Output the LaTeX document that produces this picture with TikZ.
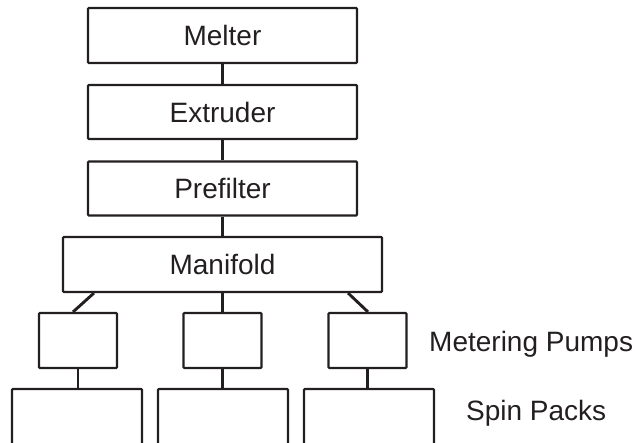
\documentclass[tikz,border=0pt]{standalone}
\usepackage{fontspec}
\setmainfont{Liberation Sans}
\definecolor{ink}{HTML}{231F20}
\begin{document}
\begin{tikzpicture}[x=1pt,y=-1pt,
  box/.style={draw=ink,line width=2.1pt,rounded corners=0.8pt,inner sep=0pt,
    font=\fontsize{28}{32}\selectfont,text=ink},
  wide/.style={box,minimum width=269pt,minimum height=55pt},
  pump/.style={box,minimum width=78pt,minimum height=55pt},
  pack/.style={box,minimum width=130pt,minimum height=81pt},
  link/.style={draw=ink,line width=2.9pt},
  lbl/.style={font=\fontsize{28}{32}\selectfont,text=ink,inner sep=0pt,anchor=base west}]
\useasboundingbox (0,0) rectangle (635,443);
\clip (0,0) rectangle (635,443);
\node[wide] (melter) at (222.5,35.5) {Melter};
\node[wide,minimum height=54pt] (extr) at (222.5,112) {Extruder};
\node[wide,minimum height=54pt] (pref) at (222.5,188.5) {Prefilter};
\node[wide,minimum width=319pt] (man) at (222.5,264.5) {Manifold};
\node[pump] (p1) at (78,340.5) {};
\node[pump] (p2) at (222.5,340.5) {};
\node[pump] (p3) at (367.5,340.5) {};
\node[pack] (s1) at (77,429.5) {};
\node[pack] (s2) at (223,429.5) {};
\node[pack] (s3) at (369,429.5) {};
\node[lbl] (mplbl) at (429,352) {Metering Pumps};
\node[lbl] (splbl) at (466,421) {Spin Packs};
\draw[link] (melter.south) -- (extr.north);
\draw[link] (extr.south) -- (pref.north);
\draw[link] (pref.south) -- (man.north);
\draw[link] ([xshift=32pt]man.south west) -- ([xshift=-5pt]p1.north);
\draw[link] (man.south) -- (p2.north);
\draw[link] ([xshift=-35pt]man.south east) -- ([xshift=0.5pt]p3.north);
\draw[link] (p1.south) -- (p1.south |- s1.north);
\draw[link] (p2.south) -- (p2.south |- s2.north);
\draw[link] (p3.south) -- (p3.south |- s3.north);
\end{tikzpicture}
\end{document}
